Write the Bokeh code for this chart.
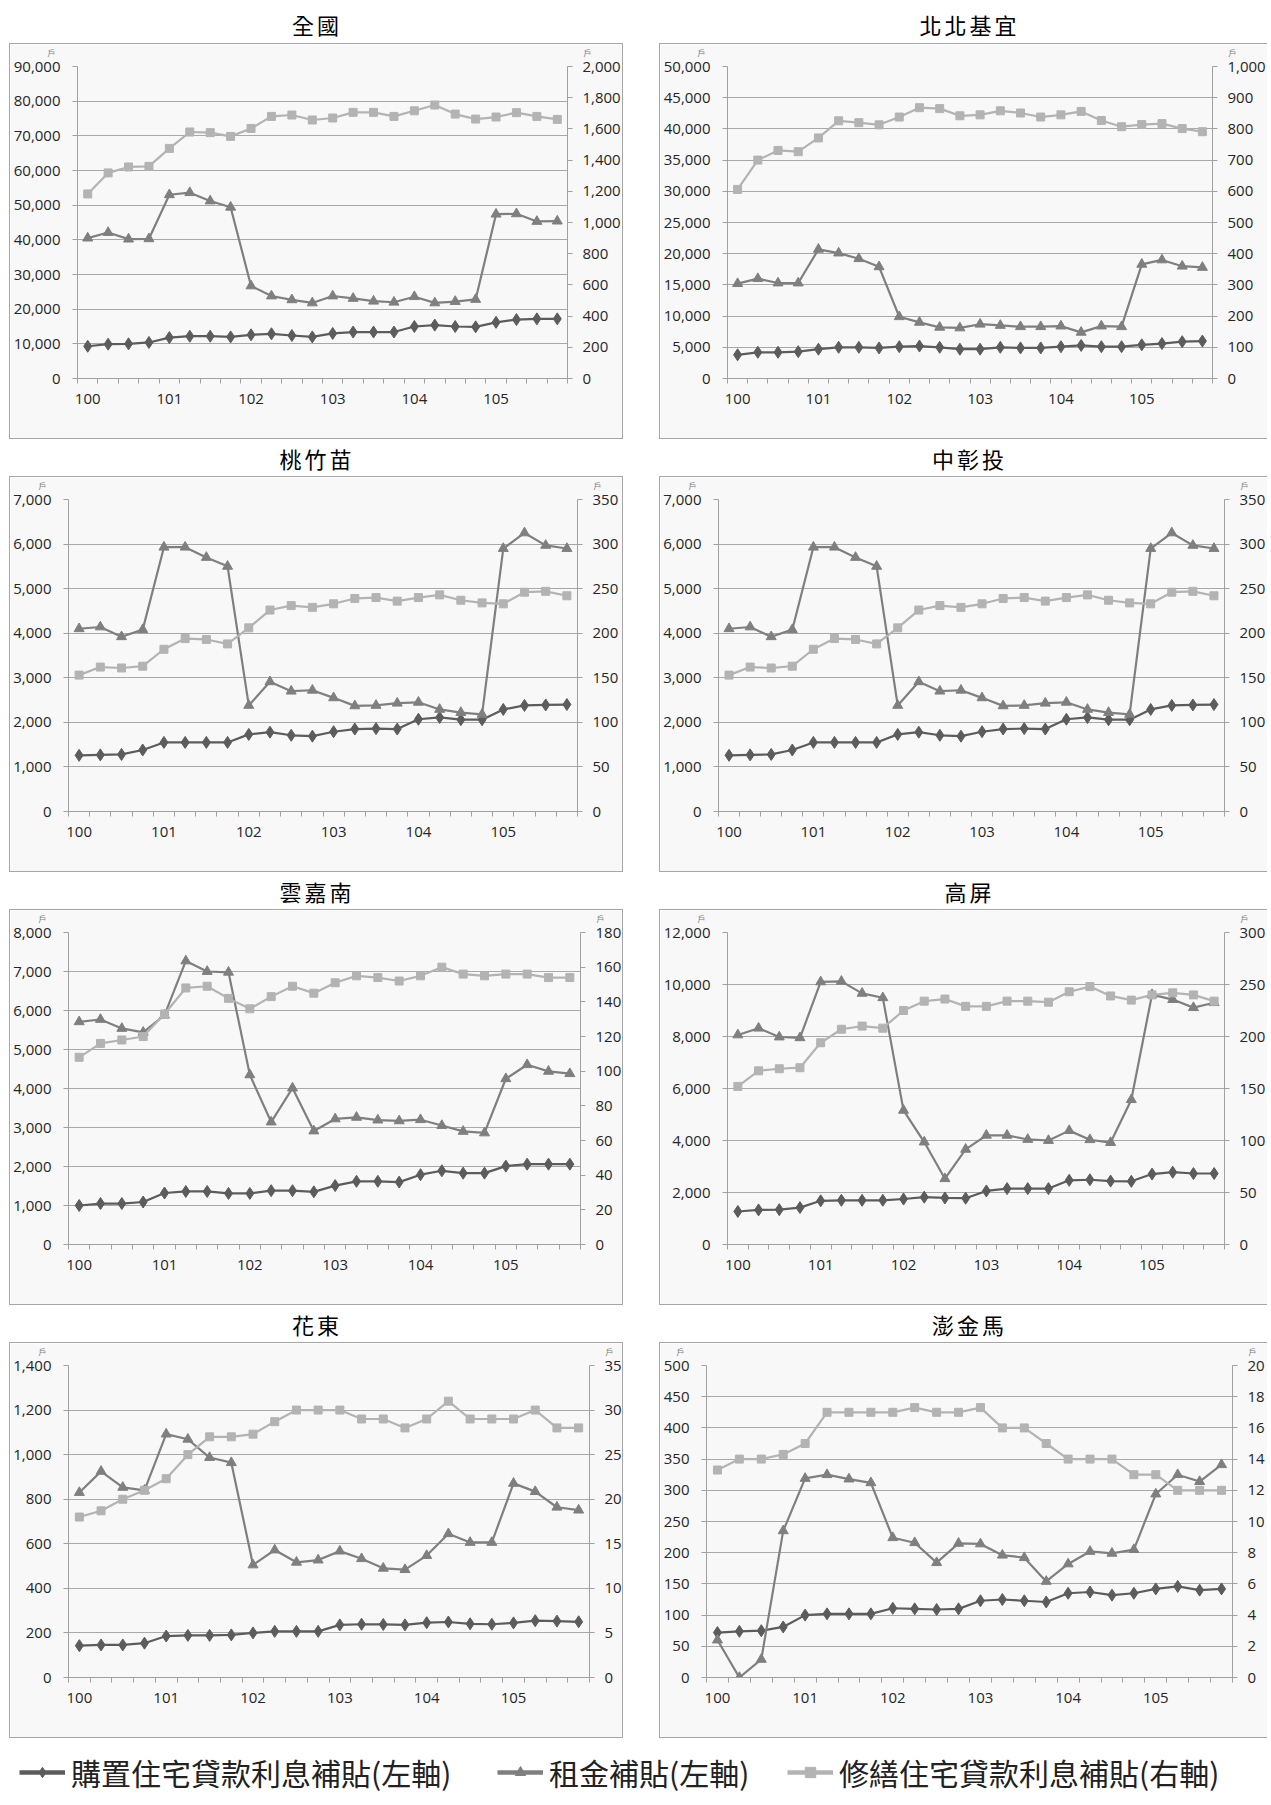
from bokeh.plotting import figure
from bokeh.models import (Range1d, LinearAxis, FixedTicker, NumeralTickFormatter, Label,
                          Div, Spacer, Legend, LegendItem)
from bokeh.layouts import column, row
from bokeh.embed import file_html
from bokeh.resources import INLINE

# ---------------- data ----------------
QUARTERS = list(range(24))
YEAR_TICKS = [0, 4, 8, 12, 16, 20]
YEAR_LABELS = ["100", "101", "102", "103", "104", "105"]

SERIES_NAMES = ["購置住宅貸款利息補貼(左軸)", "租金補貼(左軸)", "修繕住宅貸款利息補貼(右軸)"]

# 全國
nat_purchase = [9300, 9900, 10000, 10400, 11800, 12200, 12200, 12000, 12600, 12900, 12400, 12000,
                13000, 13400, 13400, 13400, 15000, 15400, 15000, 14900, 16200, 17000, 17200, 17200]
nat_rent = [40500, 42100, 40200, 40300, 53000, 53600, 51200, 49400, 26700, 23800, 22700, 21800,
            23800, 23100, 22300, 22000, 23600, 21800, 22200, 22800, 47400, 47500, 45300, 45400]
nat_repair = [1183, 1318, 1356, 1360, 1475, 1580, 1576, 1552, 1603, 1680, 1689, 1657,
              1670, 1706, 1706, 1680, 1716, 1753, 1695, 1663, 1676, 1704, 1680, 1661]

# 北北基宜
north_purchase = [3800, 4200, 4200, 4300, 4700, 5000, 5000, 4900, 5100, 5200, 5000, 4700,
                  4700, 5000, 4900, 4900, 5100, 5300, 5100, 5100, 5400, 5600, 5900, 6000]
north_rent = [15200, 16000, 15300, 15300, 20700, 20100, 19200, 17900, 9900, 9000, 8200, 8100,
              8700, 8500, 8300, 8300, 8400, 7400, 8400, 8300, 18300, 19000, 18000, 17800]
north_repair = [606, 700, 731, 727, 771, 826, 820, 813, 838, 868, 865, 842,
                845, 858, 851, 838, 845, 856, 827, 807, 814, 817, 801, 791]

# 桃竹苗
tzm_purchase = [1260, 1270, 1280, 1380, 1550, 1550, 1550, 1550, 1730, 1780, 1710, 1690,
                1790, 1850, 1860, 1850, 2070, 2110, 2060, 2060, 2290, 2380, 2390, 2400]
tzm_rent = [4100, 4140, 3920, 4080, 5930, 5930, 5700, 5500, 2380, 2910, 2700, 2720,
            2550, 2370, 2380, 2430, 2450, 2290, 2220, 2180, 5900, 6250, 5970, 5900]
tzm_repair = [153, 162, 161, 163, 182, 194, 193, 188, 206, 226, 231, 229,
              233, 239, 240, 236, 240, 243, 237, 234, 233, 246, 247, 242]

# 中彰投
czn_purchase = [1260, 1270, 1280, 1380, 1550, 1550, 1550, 1550, 1730, 1780, 1710, 1690,
                1790, 1850, 1860, 1850, 2070, 2110, 2060, 2060, 2290, 2380, 2390, 2400]
czn_rent = [4100, 4140, 3920, 4080, 5930, 5930, 5700, 5500, 2380, 2910, 2700, 2720,
            2550, 2370, 2380, 2430, 2450, 2290, 2220, 2180, 5900, 6250, 5970, 5900]
czn_repair = [153, 162, 161, 163, 182, 194, 193, 188, 206, 226, 231, 229,
              233, 239, 240, 236, 240, 243, 237, 234, 233, 246, 247, 242]

# 雲嘉南
yct_purchase = [1000, 1050, 1050, 1090, 1320, 1360, 1360, 1310, 1310, 1380, 1380, 1350,
                1510, 1620, 1620, 1600, 1790, 1890, 1830, 1830, 2010, 2060, 2060, 2060]
yct_rent = [5710, 5770, 5540, 5440, 5880, 7270, 7000, 6980, 4350, 3140, 4010, 2910,
            3220, 3260, 3190, 3170, 3200, 3050, 2900, 2860, 4250, 4610, 4440, 4380]
yct_repair = [108, 116, 118, 120, 133, 148, 149, 142, 136, 143, 149, 145,
              151, 155, 154, 152, 155, 160, 156, 155, 156, 156, 154, 154]

# 高屏
kp_purchase = [1270, 1330, 1340, 1420, 1680, 1700, 1700, 1700, 1750, 1820, 1790, 1780,
               2060, 2150, 2150, 2150, 2470, 2490, 2440, 2430, 2710, 2780, 2730, 2730]
kp_rent = [8060, 8320, 7980, 7950, 10100, 10120, 9660, 9490, 5160, 3940, 2530, 3660,
           4200, 4200, 4040, 4000, 4380, 4030, 3920, 5570, 9610, 9420, 9110, 9300]
kp_repair = [152, 167, 169, 170, 194, 207, 210, 208, 225, 234, 236, 229,
             229, 234, 234, 233, 243, 248, 239, 235, 240, 242, 240, 234]

# 花東
ht_purchase = [143, 146, 146, 154, 186, 189, 189, 191, 200, 207, 207, 207,
               236, 239, 238, 236, 246, 249, 241, 239, 245, 255, 253, 250]
ht_rent = [830, 925, 853, 840, 1092, 1069, 987, 964, 505, 572, 517, 527,
           567, 533, 490, 484, 547, 645, 606, 606, 871, 834, 764, 751]
ht_repair = [18, 18.7, 20, 21, 22.3, 25, 27, 27, 27.3, 28.7, 30, 30,
             30, 29, 29, 28, 29, 31, 29, 29, 29, 30, 28, 28]

# 澎金馬
pkm_purchase = [72, 74, 75, 81, 100, 102, 102, 102, 111, 110, 109, 110,
                123, 125, 123, 121, 135, 137, 132, 135, 142, 146, 140, 142]
pkm_rent = [60, 0, 29, 235, 319, 325, 318, 312, 224, 216, 184, 215,
            214, 196, 192, 154, 182, 202, 199, 205, 294, 325, 314, 341]
pkm_repair = [13.3, 14, 14, 14.3, 15, 17, 17, 17, 17, 17.3, 17, 17,
              17.3, 16, 16, 15, 14, 14, 14, 13, 13, 12, 12, 12]

# ---------------- styling ----------------
C_PURCHASE = "#5c5c5c"
C_RENT = "#7f7f7f"
C_REPAIR = "#b3b3b3"
AXIS_C = "#a0a0a0"
GRID_C = "#a8a8a8"
BG = "#f8f8f8"
TICK_FONT = "Open Sans"
TICK_SIZE = "15px"
CJK = "Noto Sans CJK TC"

FIG_H = 396
FRAME_H = 312
TOP_B = 22


def style_axis(ax, standoff):
    ax.major_label_standoff = standoff
    ax.major_label_text_font = TICK_FONT
    ax.major_label_text_font_size = TICK_SIZE
    ax.major_label_text_color = "#262626"
    ax.axis_line_color = AXIS_C


def make_panel(purchase, rent, repair, lmax, lstep, rmax, rstep, width, left_b, frame_w, right_col):
    right_b = width - left_b - frame_w
    styles = {"border": "1px solid #a6a6a6"}
    if right_col:
        styles["border-right"] = "none"
    p = figure(width=width, height=FIG_H, x_range=Range1d(-0.5, 23.5), y_range=Range1d(0, lmax),
               output_backend="svg", toolbar_location=None,
               min_border_left=left_b, min_border_right=right_b,
               min_border_top=TOP_B, min_border_bottom=FIG_H - TOP_B - FRAME_H,
               background_fill_color=BG, border_fill_color=BG, outline_line_color=None,
               styles=styles, margin=0)
    p.extra_y_ranges = {"r": Range1d(0, rmax)}

    # x axis (year labels, quarter boundary ticks)
    xa = p.xaxis[0]
    xa.ticker = FixedTicker(ticks=YEAR_TICKS, minor_ticks=[i - 0.5 for i in range(25)])
    xa.major_label_overrides = {t: lab for t, lab in zip(YEAR_TICKS, YEAR_LABELS)}
    xa.major_tick_line_color = None
    xa.minor_tick_line_color = AXIS_C
    xa.minor_tick_in = 0
    xa.minor_tick_out = 5
    style_axis(xa, 9)

    lticks = list(range(0, lmax + 1, lstep))
    ya = p.yaxis[0]
    ya.ticker = FixedTicker(ticks=lticks)
    ya.formatter = NumeralTickFormatter(format="0,0")
    ya.minor_tick_line_color = None
    ya.major_tick_in = 0
    ya.major_tick_out = 5
    ya.major_tick_line_color = AXIS_C
    style_axis(ya, 12)

    rticks = list(range(0, rmax + 1, rstep))
    ra = LinearAxis(y_range_name="r", ticker=FixedTicker(ticks=rticks),
                    formatter=NumeralTickFormatter(format="0,0"))
    ra.minor_tick_line_color = None
    ra.major_tick_in = 0
    ra.major_tick_out = 5
    ra.major_tick_line_color = AXIS_C
    style_axis(ra, 10)
    p.add_layout(ra, "right")

    p.xgrid.visible = False
    p.ygrid.ticker = FixedTicker(ticks=lticks)
    p.ygrid.grid_line_color = GRID_C

    # series
    p.line(QUARTERS, purchase, color=C_PURCHASE, line_width=2.2)
    p.scatter(QUARTERS, purchase, marker="diamond", size=12, color=C_PURCHASE)
    p.line(QUARTERS, rent, color=C_RENT, line_width=2.2)
    p.scatter(QUARTERS, rent, marker="triangle", size=10, color=C_RENT)
    p.line(QUARTERS, repair, color=C_REPAIR, line_width=2.2, y_range_name="r")
    p.scatter(QUARTERS, repair, marker="square", size=8, color=C_REPAIR, y_range_name="r")

    # unit labels above each value axis (placed in the top side panel so they are not clipped)
    for xa_pos, xoff in ((-0.5, -26), (23.5, 20)):
        p.add_layout(Label(x=xa_pos, y=lmax, x_offset=xoff, y_offset=14, text="戶",
                           text_font=CJK, text_font_size="8px", text_color="#7a7a7a",
                           text_align="center", text_baseline="middle"), "above")
    return p


def title_div(text, width, height, center, shift=0):
    html = ('<div style="width:%dpx;text-align:center;font-family:\'%s\';font-size:22px;'
            'letter-spacing:3px;line-height:%dpx;color:#000;padding-left:%dpx;box-sizing:border-box">'
            '%s</div>') % (width, CJK, 2 * center, shift, text)
    return Div(text=html, width=width, height=height, margin=0)


LW, RW = 614, 608
panels = [
    ("全國", make_panel(nat_purchase, nat_rent, nat_repair, 90000, 10000, 2000, 200, LW, 64, 493, False)),
    ("北北基宜", make_panel(north_purchase, north_rent, north_repair, 50000, 5000, 1000, 100, RW, 63, 492, True)),
    ("桃竹苗", make_panel(tzm_purchase, tzm_rent, tzm_repair, 7000, 1000, 350, 50, LW, 57, 510, False)),
    ("中彰投", make_panel(czn_purchase, czn_rent, czn_repair, 7000, 1000, 350, 50, RW, 54, 513, True)),
    ("雲嘉南", make_panel(yct_purchase, yct_rent, yct_repair, 8000, 1000, 180, 20, LW, 55, 515, False)),
    ("高屏", make_panel(kp_purchase, kp_rent, kp_repair, 12000, 2000, 300, 50, RW, 62, 506, True)),
    ("花東", make_panel(ht_purchase, ht_rent, ht_repair, 1400, 200, 35, 5, LW, 54, 525, False)),
    ("澎金馬", make_panel(pkm_purchase, pkm_rent, pkm_repair, 500, 50, 20, 2, RW, 42, 530, True)),
]

children = []
for r in range(4):
    (tl, pl), (tr, pr) = panels[2 * r], panels[2 * r + 1]
    th = 35 if r == 0 else 37
    tc = 16 if r == 0 else 19
    children.append(row(title_div(tl, LW + 2, th, tc), Spacer(width=36, height=th, margin=0),
                        title_div(tr, RW + 1, th, tc, shift=8), spacing=0, margin=0))
    children.append(row(pl, Spacer(width=36, height=FIG_H, margin=0), pr, spacing=0, margin=0))

# legend strip: the national series, drawn outside the visible window, give the legend icons
lp = figure(width=1262, height=58, x_range=Range1d(-0.5, 23.5), y_range=Range1d(-3, -2),
            output_backend="svg", toolbar_location=None, x_axis_location=None, y_axis_location=None,
            min_border=0, min_border_left=0, min_border_right=0, min_border_top=0, min_border_bottom=0,
            outline_line_color=None, background_fill_color="white", border_fill_color="white", margin=0)
lp.grid.visible = False
specs = [(nat_purchase, C_PURCHASE, "diamond", 17), (nat_rent, C_RENT, "triangle", 15),
         (nat_repair, C_REPAIR, "square", 13)]
xs = [10, 488, 778]
for name, (vals, col, mk, sz), x0 in zip(SERIES_NAMES, specs, xs):
    lr = lp.line(QUARTERS, vals, color=col, line_width=4.5)
    sr = lp.scatter(QUARTERS, vals, marker=mk, size=sz, color=col)
    leg = Legend(items=[LegendItem(label=name, renderers=[lr, sr])], location=(x0, 2),
                 orientation="horizontal", label_text_font=CJK, label_text_font_size="30px",
                 label_text_color="#222222", glyph_width=46, glyph_height=26, padding=0, margin=0,
                 border_line_color=None, background_fill_alpha=0, label_standoff=6)
    lp.add_layout(leg)
children.append(lp)

layout = column(*children, spacing=0, margin=(8, 0, 0, 9))

open("out.html", "w").write(file_html(layout, INLINE))
